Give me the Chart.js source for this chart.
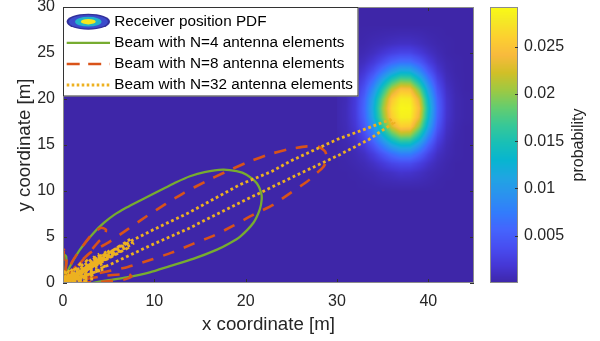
<!DOCTYPE html>
<html><head><meta charset="utf-8">
<script src="https://cdn.jsdelivr.net/npm/chart.js@4.4.1/dist/chart.umd.min.js"></script>
<style>html,body{margin:0;padding:0;background:#fff;}canvas{display:block;}</style>
</head><body>
<canvas id="c" width="600" height="341" style="width:600px;height:341px"></canvas>
<script>
// ---------------- data ----------------
const xTicks = [0, 10, 20, 30, 40];
const yTicks = [0, 5, 10, 15, 20, 25, 30];
const cbTicks = [0.005, 0.01, 0.015, 0.02, 0.025];
const xRange = [0, 45];
const yRange = [0, 30];
const cbRange = [0, 0.0292];

// receiver position PDF, read on a 1 m grid (values in units of 1e-3)
const PDF_UNIT = 1e-3;
const pdfGridX = [30,31,32,33,34,35,36,37,38,39,40,41,42,43,44,45];
const pdfGridY = [10,11,12,13,14,15,16,17,18,19,20,21,22,23,24,25,26,27,28];
const pdfRows = [
 [0,0,0,0,0,0,0,0,0,0,0,0,0,0,0,0],
 [0,0,0,0.1,0.2,0.4,0.5,0.6,0.6,0.5,0.3,0.1,0,0,0,0],
 [0,0,0.1,0.3,0.5,0.9,1.2,1.6,1.5,1.1,0.6,0.3,0.1,0,0,0],
 [0,0.1,0.3,0.6,1.2,2.1,3.1,3.6,3.6,2.6,1.4,0.6,0.2,0,0,0],
 [0,0.2,0.5,1.1,2.4,4.3,6.2,7.6,7.5,5.5,2.9,1.1,0.4,0.1,0,0],
 [0.1,0.3,0.8,2.1,4.5,7.8,11.2,13.2,13.1,9.7,5.3,2.0,0.6,0.1,0,0],
 [0.1,0.5,1.3,3.3,7.0,12.1,17.0,20.1,19.8,15.0,8.3,3.2,0.9,0.2,0,0],
 [0.2,0.6,1.8,4.6,9.5,16.3,22.5,25.8,25.5,20.0,11.3,4.5,1.2,0.3,0,0],
 [0.2,0.7,2.1,5.5,11.6,19.2,25.8,28.3,28.2,23.3,13.3,5.4,1.5,0.4,0.1,0],
 [0.2,0.7,2.2,5.8,12.1,20.1,26.6,28.8,28.7,24.3,14.1,5.7,1.6,0.4,0.1,0],
 [0.2,0.6,2.1,5.4,11.3,18.7,25.3,28.1,27.9,22.8,13.0,5.3,1.5,0.4,0.1,0],
 [0.2,0.6,1.7,4.3,9.1,15.5,21.6,24.9,24.6,19.1,10.7,4.2,1.2,0.3,0,0],
 [0.1,0.4,1.2,3.1,6.4,11.2,15.9,18.7,18.4,13.8,7.7,3.0,0.8,0.2,0,0],
 [0.1,0.3,0.7,1.9,3.9,7.0,10.0,12.1,11.9,8.8,4.7,1.8,0.5,0.1,0,0],
 [0,0.1,0.5,1.0,2.1,3.7,5.5,6.5,6.4,4.8,2.5,1.0,0.3,0.1,0,0],
 [0,0.1,0.2,0.5,1.0,1.8,2.6,3.1,3.1,2.2,1.2,0.5,0.1,0,0,0],
 [0,0,0.1,0.2,0.5,0.7,1.0,1.2,1.2,0.9,0.5,0.2,0.1,0,0,0],
 [0,0,0,0.1,0.2,0.3,0.4,0.5,0.5,0.4,0.2,0.1,0,0,0,0],
 [0,0,0,0,0,0,0,0,0,0,0,0,0,0,0,0]
];

const pdfLabel = 'Receiver position PDF';
const beamLabels = ['Beam with N=4 antenna elements', 'Beam with N=8 antenna elements', 'Beam with N=32 antenna elements'];

// beam pattern, N=4
const beam4X = [0,0.05,0.35,0.3,0, 0.6,1.8,3.4,4.5,5.6,6.95,8.4,9.9,11.2,12.4,13.9,15.5,17.5,19.0,20.1,21.2,21.7,21.75,21.55,20.85,19.4,18.2,16.8,14.25,11.7,9.5,6.95,5.0,3.3,1.6,0];
const beam4Y = [0,3.1,2.9,1.5,0, 1.5,3.55,5.5,6.55,7.4,8.2,8.95,9.7,10.35,10.95,11.6,12.05,12.32,12.15,11.77,10.87,9.78,9.05,8.0,6.55,5.05,4.3,3.6,2.62,1.83,1.15,0.6,0.3,0.0,-0.4,0];

// beam pattern, N=8
const beam8X = [0,0.1,0.4,0.3,0, 1.0,2.0,3.3,4.2,4.7,4.5,4.0,3.3,2.0,0, 1.5,3.0,4.8,7.1,9.15,11.25,13.25,15.55,17.75,20.15,22.45,24.75,26.7,28.0,28.7,28.9,28.5,27.6,26.7,25.0,23.0,20.8,18.6,16.4,14.1,11.9,9.7,7.1,4.8,2.5,0, 4.6,6.8,7.5,7.2,4.8,0];
const beam8Y = [0,3.6,3.3,1.5,0, 2.3,3.8,5.45,6.0,5.8,5.0,4.6,3.8,2.3,0, 1.9,3.3,4.3,5.85,7.25,8.6,9.8,11.0,12.05,13.1,13.95,14.55,14.85,14.8,14.3,13.5,12.6,11.8,11.0,9.85,8.5,7.4,6.2,5.1,4.2,3.3,2.55,1.75,1.25,0.75,0, 0.15,0.4,0.7,0.95,0.8,0];

// beam pattern, N=32 (side lobes near the origin, then the main lobe, then upper side lobes)
const beam32X = [0,
 1.5,1.45,0, 2.5,2.4,0, 3.3,3.2,0,
 1.1,0.89,0, 1.81,1.59,0, 2.51,2.29,0, 3.21,2.99,0, 3.91,3.69,0, 4.61,4.39,0,
 2.5,5.12,9.5,13.7,19.4,25.0,30.3,33.5,35.5,36.2,35.8,33.0,30.0,25.0,22.85,19.4,13.7,10.0,7.5,0,
 7.64,7.36,0, 7.09,6.81,0, 6.34,6.06,0, 5.62,5.34,0, 4.90,4.62,0, 4.14,3.86,0, 3.62,3.34,0, 2.88,2.60,0, 2.14,1.86,0, 1.42,1.14,0,
 0.6,0.4,0, 0.2,0.05,0];
const beam32Y = [0,
 0.05,0.35,0, 0.2,0.55,0, 0.45,0.8,0,
 0.32,0.88,0, 0.57,1.13,0, 0.82,1.38,0, 1.07,1.63,0, 1.32,1.88,0, 1.57,2.13,0,
 1.0,1.99,4.05,5.9,8.75,11.45,13.95,15.6,16.95,17.4,17.75,16.7,15.6,13.3,12.13,10.7,7.6,5.85,4.6,0,
 4.28,4.76,0, 3.81,4.29,0, 3.46,3.94,0, 3.19,3.67,0, 2.84,3.32,0, 2.59,3.07,0, 2.29,2.77,0, 1.93,2.41,0, 1.56,2.04,0, 1.21,1.69,0,
 1.3,1.4,0, 1.2,1.25,0];

// ---------------- styles ----------------
const FONT = "'Liberation Sans', Arial, Helvetica, sans-serif";
const TXT = '#262626';
const PARULA_POS = [0,4,8,12,16,20,24,28,32,36,40,44,48,52,56,60,63].map(v => v / 63);
const PARULA = [
 [0.2422,0.1504,0.6603],[0.2706,0.2147,0.8364],[0.2813,0.3006,0.9414],[0.2699,0.3892,0.9906],
 [0.1963,0.4847,0.9892],[0.1687,0.5703,0.9359],[0.1248,0.6459,0.8883],[0.0297,0.7082,0.8163],
 [0.0964,0.7500,0.7120],[0.2161,0.7843,0.5923],[0.3909,0.8029,0.4354],[0.6174,0.7876,0.2612],
 [0.8203,0.7498,0.1535],[0.9728,0.7298,0.2394],[0.9892,0.8136,0.1885],[0.9597,0.9135,0.1423],
 [0.9769,0.9839,0.0805]];
function parula(t) {
  t = Math.max(0, Math.min(1, t));
  let k = 0;
  while (k < PARULA_POS.length - 2 && t > PARULA_POS[k + 1]) k++;
  const a = PARULA_POS[k], b = PARULA_POS[k + 1];
  const f = (t - a) / (b - a);
  const c0 = PARULA[k], c1 = PARULA[k + 1];
  return [0, 1, 2].map(i => (c0[i] + (c1[i] - c0[i]) * f) * 255);
}
function css(c) { return 'rgb(' + c.map(v => Math.round(v)).join(',') + ')'; }

function pdfAt(x, y) {
  const fx = (x - pdfGridX[0]) / (pdfGridX[1] - pdfGridX[0]);
  const fy = (y - pdfGridY[0]) / (pdfGridY[1] - pdfGridY[0]);
  const nx = pdfGridX.length, ny = pdfGridY.length;
  if (fx < 0 || fy < 0 || fx > nx - 1 || fy > ny - 1) return 0;
  const i = Math.min(nx - 2, Math.floor(fx)), j = Math.min(ny - 2, Math.floor(fy));
  const tx = fx - i, ty = fy - j;
  const r0 = pdfRows[j], r1 = pdfRows[j + 1];
  const v = (r0[i] * (1 - tx) + r0[i + 1] * tx) * (1 - ty) + (r1[i] * (1 - tx) + r1[i + 1] * tx) * ty;
  return v * PDF_UNIT;
}

const toPts = (xs, ys) => xs.map((x, i) => ({x: x, y: ys[i]}));

const heatPlugin = {
  id: 'heat',
  beforeDatasetsDraw(chart) {
    const {ctx, chartArea: ca} = chart;
    const xs = chart.scales.x, ys = chart.scales.y;
    const L = Math.floor(ca.left), T = Math.floor(ca.top);
    const w = Math.ceil(ca.right) - L, h = Math.ceil(ca.bottom) - T;
    const off = document.createElement('canvas');
    off.width = w; off.height = h;
    const octx = off.getContext('2d');
    const img = octx.createImageData(w, h);
    for (let j = 0; j < h; j++) {
      const yv = ys.getValueForPixel(T + j + 0.5);
      for (let i = 0; i < w; i++) {
        const xv = xs.getValueForPixel(L + i + 0.5);
        const c = parula(pdfAt(xv, yv) / cbRange[1]);
        const k = (j * w + i) * 4;
        img.data[k] = c[0]; img.data[k + 1] = c[1]; img.data[k + 2] = c[2]; img.data[k + 3] = 255;
      }
    }
    octx.putImageData(img, 0, 0);
    ctx.drawImage(off, L, T);
  },
  afterDatasetsDraw(chart) {
    const {ctx, chartArea: ca} = chart;
    const xs = chart.scales.x, ys = chart.scales.y;
    ctx.save();
    ctx.strokeStyle = '#333';
    ctx.lineWidth = 1;
    ctx.beginPath();
    xTicks.forEach(v => {
      const p = Math.round(xs.getPixelForValue(v)) + 0.5;
      ctx.moveTo(p, ca.bottom); ctx.lineTo(p, ca.bottom - 4);
      ctx.moveTo(p, ca.top); ctx.lineTo(p, ca.top + 4);
    });
    yTicks.forEach(v => {
      const p = Math.round(ys.getPixelForValue(v)) + 0.5;
      ctx.moveTo(ca.left, p); ctx.lineTo(ca.left + 4, p);
      ctx.moveTo(ca.right, p); ctx.lineTo(ca.right - 4, p);
    });
    ctx.stroke();
    ctx.strokeStyle = '#8c8c8c';
    ctx.strokeRect(ca.left + 0.5, ca.top + 0.5, ca.right - ca.left - 1, ca.bottom - ca.top - 1);
    ctx.restore();
  },
  afterDraw(chart) {
    const {ctx, chartArea: ca} = chart;
    const cb = chart.scales.cb;
    ctx.save();
    // colour bar
    const x0 = ca.right + 16, x1 = ca.right + 44;
    const top = Math.round(cb.top), bot = Math.round(cb.bottom);
    for (let y = top; y < bot; y++) {
      ctx.fillStyle = css(parula(cb.getValueForPixel(y + 0.5) / cbRange[1]));
      ctx.fillRect(x0, y, x1 - x0, 1);
    }
    ctx.strokeStyle = '#8c8c8c';
    ctx.lineWidth = 1;
    ctx.strokeRect(x0 + 0.5, top + 0.5, x1 - x0 - 1, bot - top - 1);
    ctx.strokeStyle = '#333';
    ctx.beginPath();
    cbTicks.forEach(v => {
      const p = Math.round(cb.getPixelForValue(v)) + 0.5;
      ctx.moveTo(x1, p); ctx.lineTo(x1 - 3, p);
    });
    ctx.stroke();
    // colour bar label
    ctx.translate(579, (top + bot) / 2);
    ctx.rotate(-Math.PI / 2);
    ctx.fillStyle = TXT;
    ctx.font = '16px ' + FONT;
    ctx.textAlign = 'center';
    ctx.textBaseline = 'middle';
    ctx.fillText('probability', 0, 0);
    ctx.setTransform(1, 0, 0, 1, 0, 0);
    // legend
    const lx0 = ca.left, ly0 = ca.top, lx1 = 358.5, ly1 = 96.5;
    ctx.fillStyle = '#fff';
    ctx.fillRect(lx0, ly0, lx1 - lx0, ly1 - ly0);
    ctx.strokeStyle = '#333';
    ctx.strokeRect(lx0 + 0.5, ly0 + 0.5, lx1 - lx0 - 1, ly1 - ly0 - 1);
    const rows = [21.7, 42.9, 64.0, 85.0];
    const sx0 = 66.7, sx1 = 110, tx = 114.3;
    ctx.font = '15.3px ' + FONT;
    ctx.textAlign = 'left';
    ctx.textBaseline = 'middle';
    // PDF icon
    const cx = 88.3, cy = rows[0];
    [[21.7, 8.0, '#32309a'], [19.6, 6.8, '#3b4bcc'], [13.2, 4.9, '#21b3c9'], [7.4, 2.7, '#f6e71d']].forEach(e => {
      ctx.beginPath(); ctx.ellipse(cx, cy, e[0], e[1], 0, 0, Math.PI * 2); ctx.fillStyle = e[2]; ctx.fill();
    });
    ctx.fillStyle = '#000';
    ctx.fillText(pdfLabel, tx, rows[0]);
    chart.data.datasets.forEach((ds, i) => {
      const y = rows[i + 1];
      ctx.save();
      ctx.strokeStyle = ds.borderColor;
      ctx.lineWidth = ds.borderWidth;
      ctx.setLineDash(ds.legendDash || []);
      ctx.beginPath(); ctx.moveTo(sx0, y); ctx.lineTo(sx1, y); ctx.stroke();
      ctx.restore();
      ctx.fillStyle = '#000';
      ctx.fillText(ds.label, tx, y);
    });
    ctx.restore();
  }
};

const tickFont = {family: FONT, size: 16};
const titleFont = {family: FONT, size: 18.7};
const noPad = s => { s.paddingTop = 0; s.paddingBottom = 0; s.paddingLeft = 0; s.paddingRight = 0; };

new Chart(document.getElementById('c'), {
  type: 'scatter',
  data: {
    datasets: [
      {label: beamLabels[0], data: toPts(beam4X, beam4Y), showLine: true, borderColor: '#77AC30', borderWidth: 2.3,
       pointRadius: 0, tension: 0.25, fill: false, clip: 0, order: 2},
      {label: beamLabels[1], data: toPts(beam8X, beam8Y), showLine: true, borderColor: '#D95319', borderWidth: 2.6,
       borderDash: [12, 10], legendDash: [13, 8.5], pointRadius: 0, tension: 0.2, fill: false, clip: 0, order: 1},
      {label: beamLabels[2], data: toPts(beam32X, beam32Y), showLine: true, borderColor: '#EDB120', borderWidth: 2.8,
       borderDash: [2.8, 2.8], legendDash: [2.6, 2.4], pointRadius: 0, tension: 0, fill: false, clip: 0, order: 0}
    ]
  },
  options: {
    responsive: false,
    animation: false,
    events: [],
    layout: {padding: {top: 7, left: 0, right: 0, bottom: 0}},
    plugins: {legend: {display: false}, tooltip: {enabled: false}},
    scales: {
      x: {
        type: 'linear', position: 'bottom', min: xRange[0], max: xRange[1],
        afterBuildTicks: s => { s.ticks = xTicks.map(v => ({value: v})); },
        afterFit: s => { s.height = 58; noPad(s); },
        grid: {display: false, drawTicks: false}, border: {display: false},
        ticks: {font: tickFont, color: TXT, padding: 9, maxRotation: 0, autoSkip: false, callback: v => String(v)},
        title: {display: true, text: 'x coordinate [m]', font: titleFont, color: TXT, padding: {top: 0, bottom: 5}}
      },
      y: {
        type: 'linear', position: 'left', min: yRange[0], max: yRange[1],
        afterBuildTicks: s => { s.ticks = yTicks.map(v => ({value: v})); },
        afterFit: s => { s.width = 63; noPad(s); },
        grid: {display: false, drawTicks: false}, border: {display: false},
        ticks: {font: tickFont, color: TXT, padding: 8, autoSkip: false, callback: v => String(v)},
        title: {display: true, text: 'y coordinate [m]', font: titleFont, color: TXT, padding: {top: 14, bottom: 0}}
      },
      cb: {
        type: 'linear', position: 'right', min: cbRange[0], max: cbRange[1],
        afterBuildTicks: s => { s.ticks = cbTicks.map(v => ({value: v})); },
        afterFit: s => { s.width = 126; noPad(s); },
        grid: {display: false, drawTicks: false}, border: {display: false},
        ticks: {font: tickFont, color: TXT, padding: 50, autoSkip: false, callback: v => String(v)}
      }
    }
  },
  plugins: [heatPlugin]
});
</script>
</body></html>
